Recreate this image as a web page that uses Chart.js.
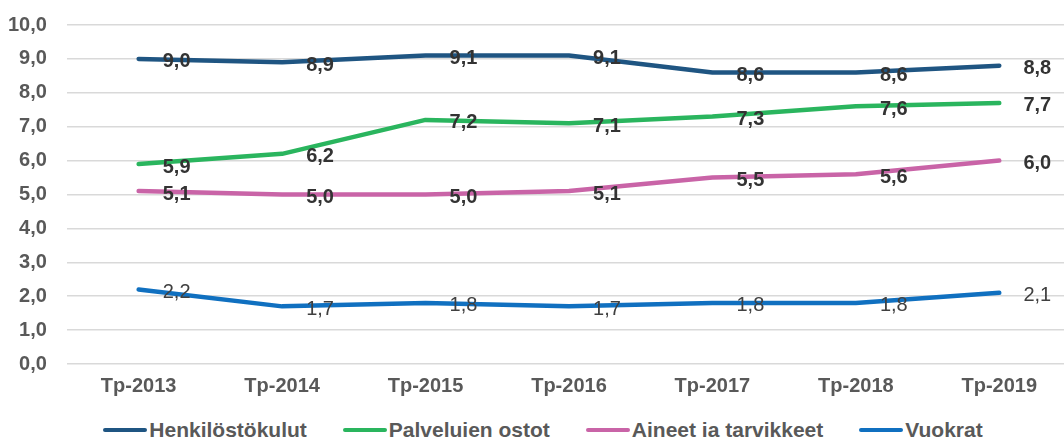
<!DOCTYPE html>
<html>
<head>
<meta charset="utf-8">
<script src="https://cdn.jsdelivr.net/npm/chart.js@4"></script>
<style>
    html, body { margin: 0; padding: 0; background: #fff; overflow: hidden; }
    body { width: 1064px; height: 437px; position: relative; }
    #wrap { position: absolute; left: -20px; top: -7px; width: 1092px; height: 415px; }
    #legend {
        position: absolute; left: 11px; top: 416px; width: 1064px;
        display: flex; justify-content: center; align-items: center;
        font-family: "Liberation Sans", Arial, sans-serif; font-weight: bold;
        font-size: 21px; color: #595959; line-height: 28px; white-space: nowrap;
    }
    .item { display: flex; align-items: center; margin: 0 18px; }
    .swatch { width: 44px; height: 4px; border-radius: 2px; margin-right: 2px; }
</style>
</head>
<body>
<div id="wrap"><canvas id="chart"></canvas></div>
<div id="legend"></div>
<script>
const categories = ['Tp-2013', 'Tp-2014', 'Tp-2015', 'Tp-2016', 'Tp-2017', 'Tp-2018', 'Tp-2019'];
const henkilostokulut = [9.0, 8.9, 9.1, 9.1, 8.6, 8.6, 8.8];
const palvelujenOstot = [5.9, 6.2, 7.2, 7.1, 7.3, 7.6, 7.7];
const aineetJaTarvikkeet = [5.1, 5.0, 5.0, 5.1, 5.5, 5.6, 6.0];
const vuokrat = [2.2, 1.7, 1.8, 1.7, 1.8, 1.8, 2.1];
const yTicks = [0, 1, 2, 3, 4, 5, 6, 7, 8, 9, 10];

const fontFamily = '"Liberation Sans", Arial, sans-serif';
const fmt = v => v.toFixed(1).replace('.', ',');

const series = [
    { label: 'Henkilöstökulut', data: henkilostokulut, color: '#1f5582', bold: true },
    { label: 'Palvelujen ostot', data: palvelujenOstot, color: '#2ab55e', bold: true },
    { label: 'Aineet ja tarvikkeet', data: aineetJaTarvikkeet, color: '#c964a7', bold: true },
    { label: 'Vuokrat', data: vuokrat, color: '#1070c0', bold: false }
];

// value labels next to each point
const valueLabels = {
    id: 'valueLabels',
    afterDatasetsDraw(chart) {
        const ctx = chart.ctx;
        ctx.save();
        ctx.textAlign = 'center';
        ctx.textBaseline = 'middle';
        chart.data.datasets.forEach((ds, i) => {
            const meta = chart.getDatasetMeta(i);
            ctx.font = (series[i].bold ? 'bold ' : '') + '20px ' + fontFamily;
            ctx.fillStyle = series[i].bold ? '#333333' : '#404040';
            meta.data.forEach((pt, j) => {
                ctx.fillText(fmt(ds.data[j]), pt.x + 38, pt.y + 3);
            });
        });
        ctx.restore();
    }
};

new Chart(document.getElementById('chart'), {
    type: 'line',
    data: {
        labels: categories,
        datasets: series.map(s => ({
            label: s.label,
            data: s.data,
            borderColor: s.color,
            backgroundColor: s.color,
            borderWidth: 4.5,
            borderCapStyle: 'round',
            borderJoinStyle: 'round',
            pointRadius: 0,
            tension: 0,
            fill: false
        }))
    },
    options: {
        responsive: true,
        maintainAspectRatio: false,
        animation: false,
        layout: { padding: { left: 8, right: 1, top: 6, bottom: 0 } },
        plugins: {
            legend: { display: false },
            tooltip: { enabled: false }
        },
        scales: {
            x: {
                offset: true,
                grid: { display: false, drawTicks: false },
                border: { display: false },
                ticks: {
                    color: '#595959',
                    padding: 10,
                    font: { family: fontFamily, size: 20, weight: 'bold' }
                }
            },
            y: {
                min: 0,
                max: 10,
                afterBuildTicks: axis => { axis.ticks = yTicks.map(v => ({ value: v })); },
                grid: { color: '#d9d9d9', lineWidth: 1.5, drawTicks: false },
                border: { display: false },
                ticks: {
                    color: '#595959',
                    padding: 20,
                    font: { family: fontFamily, size: 20, weight: 'bold' },
                    callback: v => fmt(v)
                }
            }
        }
    },
    plugins: [valueLabels]
});

// legend
const legend = document.getElementById('legend');
series.forEach(s => {
    const item = document.createElement('div');
    item.className = 'item';
    const sw = document.createElement('span');
    sw.className = 'swatch';
    sw.style.background = s.color;
    const txt = document.createElement('span');
    txt.textContent = s.label;
    item.appendChild(sw);
    item.appendChild(txt);
    legend.appendChild(item);
});
</script>
</body>
</html>
